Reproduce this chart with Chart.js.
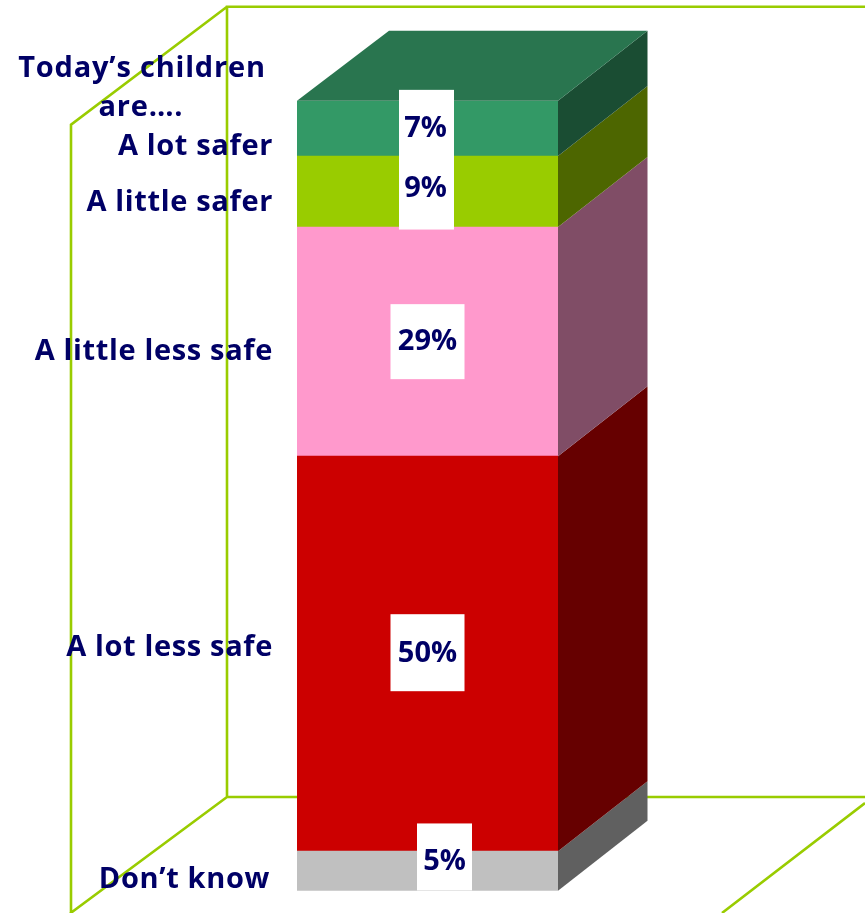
<!DOCTYPE html>
<html>
<head>
<meta charset="utf-8">
<title>Today's children are....</title>
<script src="https://cdn.jsdelivr.net/npm/chart.js@4/dist/chart.umd.min.js"></script>
<style>
  html, body { margin: 0; padding: 0; background: #fff; overflow: hidden; }
  canvas { display: block; }
</style>
</head>
<body>
<canvas id="chartSafe" width="865" height="913"></canvas>
<script>
// data, bottom of the stack first
const categories = ["Don’t know", "A lot less safe", "A little less safe", "A little safer", "A lot safer"];
const values = [5, 50, 29, 9, 7];
const titleLines = ["Today’s children", "are…."];

const frontColors = ["#C0C0C0", "#CC0000", "#FF99CC", "#99CC00", "#339966"];
const sideColors = ["#606060", "#660000", "#804D66", "#4D6600", "#1A4D33"];
const topColor = "#29754F";
const frameColor = "#99CC00";
const textColor = "#000066";

const FONT = '"Open Sans", "Noto Sans", sans-serif';
const DEPTH_X = 89.5;
const DEPTH_Y = 70;

// offsets from the middle of each segment: category text y, box dx, box dy, box w, box h, text dx, text dy
const catOffsetY = [9, -6, 10, 11, 18];
const catRight = [270, 273, 273, 273, 273];
const boxes = [
  { dx: 17, dy: -14, w: 55, h: 67, tx: 17, ty: -9 },
  { dx: 0, dy: -1, w: 74, h: 77, tx: 0, ty: 0 },
  { dx: 0, dy: 0, w: 74, h: 75, tx: 0, ty: 0 },
  { dx: -1, dy: 2, w: 55, h: 72, tx: -2, ty: -3 },
  { dx: -1, dy: -3.5, w: 55, h: 70, tx: -2, ty: 0 }
];

function poly(ctx, pts, color) {
  ctx.fillStyle = color;
  ctx.beginPath();
  pts.forEach((p, i) => (i ? ctx.lineTo(p[0], p[1]) : ctx.moveTo(p[0], p[1])));
  ctx.closePath();
  ctx.fill();
}

// the green "room" behind the bar
const framePlugin = {
  id: "frame",
  beforeDatasetsDraw(chart) {
    const ctx = chart.ctx;
    const a = chart.chartArea;
    const backL = a.left - 70, backT = a.top - 94, backB = a.bottom - 93.7;
    const wallL = a.left - 226;
    ctx.save();
    ctx.strokeStyle = frameColor;
    ctx.lineWidth = 2.6;
    ctx.beginPath();
    ctx.moveTo(chart.width, backT);
    ctx.lineTo(backL, backT);
    ctx.lineTo(backL, backB);
    ctx.lineTo(chart.width, backB);
    ctx.moveTo(backL, backT);
    ctx.lineTo(wallL, backT + 118);
    ctx.lineTo(wallL, chart.height);
    ctx.moveTo(backL, backB);
    ctx.lineTo(wallL - 1, backB + 116.5);
    ctx.moveTo(chart.width, backB + 6);
    ctx.lineTo(a.right + 164, chart.height);
    ctx.stroke();
    ctx.restore();
  }
};

// side and top faces, taken from the bar elements
const depthPlugin = {
  id: "depth",
  afterDatasetsDraw(chart) {
    const ctx = chart.ctx;
    ctx.save();
    chart.data.datasets.forEach((ds, i) => {
      const bar = chart.getDatasetMeta(i).data[0];
      const r = bar.x + bar.width / 2;
      poly(ctx, [[r, bar.y], [r + DEPTH_X, bar.y - DEPTH_Y], [r + DEPTH_X, bar.base - DEPTH_Y], [r, bar.base]], sideColors[i]);
      if (i === chart.data.datasets.length - 1) {
        const l = bar.x - bar.width / 2;
        poly(ctx, [[l, bar.y], [l + DEPTH_X + 2.5, bar.y - DEPTH_Y], [r + DEPTH_X, bar.y - DEPTH_Y], [r, bar.y]], topColor);
      }
    });
    ctx.restore();
  }
};

const textPlugin = {
  id: "texts",
  afterDraw(chart) {
    const ctx = chart.ctx;
    ctx.save();
    ctx.textBaseline = "middle";
    chart.data.datasets.forEach((ds, i) => {
      const bar = chart.getDatasetMeta(i).data[0];
      const mid = (bar.y + bar.base) / 2;
      const b = boxes[i];
      ctx.fillStyle = "#fff";
      ctx.fillRect(bar.x + b.dx - b.w / 2, mid + b.dy - b.h / 2, b.w, b.h);
    });
    ctx.font = "bold 29px " + FONT;
    ctx.fillStyle = textColor;
    chart.data.datasets.forEach((ds, i) => {
      const bar = chart.getDatasetMeta(i).data[0];
      const mid = (bar.y + bar.base) / 2;
      ctx.letterSpacing = "0px";
      ctx.textAlign = "center";
      ctx.fillText(ds.data[0] + "%", bar.x + boxes[i].tx, mid + boxes[i].ty);
      ctx.letterSpacing = "0.65px";
      ctx.textAlign = "right";
      ctx.fillText(ds.label, catRight[i], mid + catOffsetY[i]);
    });
    ctx.letterSpacing = "0.8px";
    ctx.textAlign = "center";
    ctx.fillText(titleLines[0], 142, 69);
    ctx.fillText(titleLines[1], 141, 108);
    ctx.restore();
  }
};

new Chart(document.getElementById("chartSafe"), {
  type: "bar",
  data: {
    labels: [""],
    datasets: categories.map((name, i) => ({
      label: name,
      data: [values[i]],
      backgroundColor: frontColors[i],
      borderWidth: 0,
      barPercentage: 1,
      categoryPercentage: 1
    }))
  },
  options: {
    responsive: false,
    animation: false,
    layout: { padding: { left: 297, right: 307, top: 100.7, bottom: 22.3 } },
    plugins: { legend: { display: false }, tooltip: { enabled: false } },
    scales: {
      x: { stacked: true, display: false },
      y: { stacked: true, display: false, min: 0, max: 100 }
    }
  },
  plugins: [framePlugin, depthPlugin, textPlugin]
});
</script>
</body>
</html>
